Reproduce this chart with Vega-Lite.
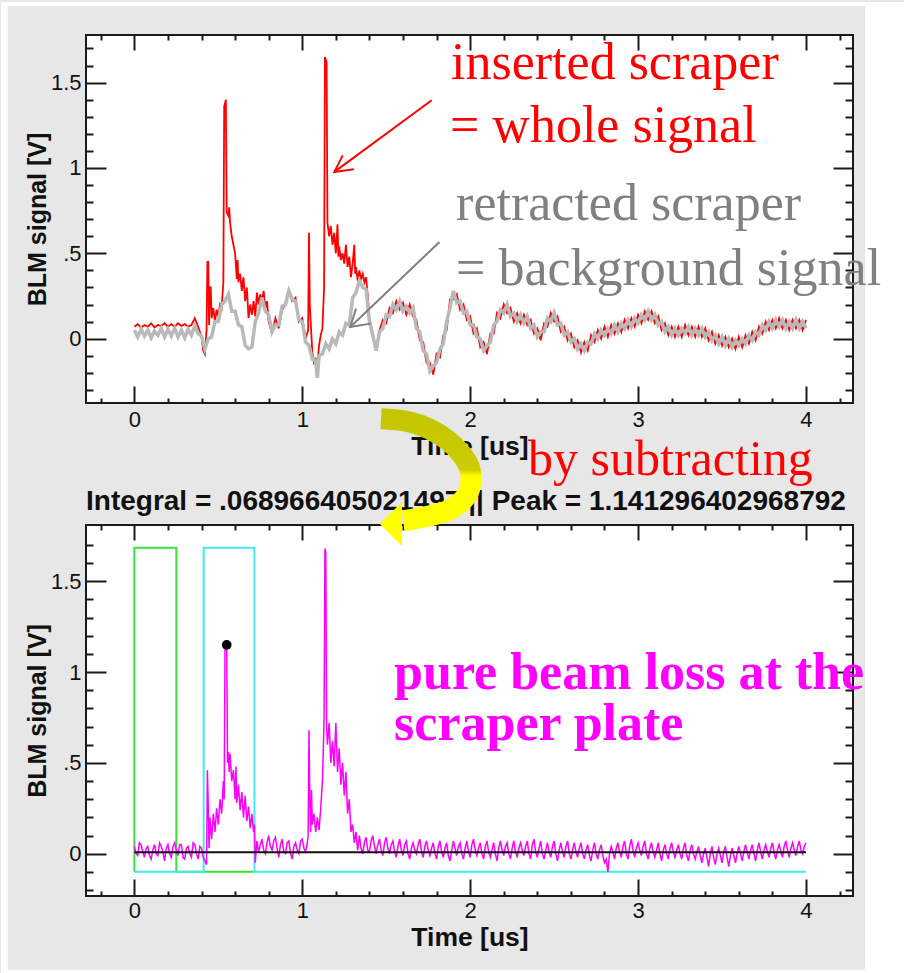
{
"$schema":"https://vega.github.io/schema/vega-lite/v6.json",
"background":"#e7e7e7",
"padding":0,
"bounds":"flush",
"spacing":122,
"config":{"view":{"fill":"#ffffff","stroke":"#1a1a1a","strokeWidth":2},"axis":{"grid":false,"domain":false,"labelFont":"Liberation Sans","titleFont":"Liberation Sans","labelColor":"#111111","titleColor":"#111111","tickColor":"#1a1a1a","tickWidth":2}},
"datasets":{
"gray":[{"t":0,"v":0.05},{"t":0.02,"v":0.01},{"t":0.04,"v":0.055},{"t":0.06,"v":0.015},{"t":0.08,"v":0.05},{"t":0.1,"v":0.005},{"t":0.12,"v":0.045},{"t":0.14,"v":0.02},{"t":0.16,"v":0.06},{"t":0.18,"v":0.01},{"t":0.2,"v":0.055},{"t":0.22,"v":0.015},{"t":0.24,"v":0.06},{"t":0.26,"v":0.01},{"t":0.28,"v":0.05},{"t":0.3,"v":0.005},{"t":0.32,"v":0.055},{"t":0.34,"v":0.02},{"t":0.36,"v":0.075},{"t":0.38,"v":0.03},{"t":0.4,"v":0.015},{"t":0.42,"v":-0.06},{"t":0.44,"v":0},{"t":0.46,"v":0.01},{"t":0.48,"v":0.1},{"t":0.5,"v":0.1},{"t":0.52,"v":0.2},{"t":0.54,"v":0.22},{"t":0.56,"v":0.26},{"t":0.58,"v":0.16},{"t":0.6,"v":0.16},{"t":0.62,"v":0.08},{"t":0.64,"v":0.07},{"t":0.66,"v":-0.04},{"t":0.68,"v":-0.06},{"t":0.7,"v":-0.05},{"t":0.72,"v":0.1},{"t":0.74,"v":0.15},{"t":0.76,"v":0.24},{"t":0.78,"v":0.16},{"t":0.8,"v":0.14},{"t":0.82,"v":0.04},{"t":0.84,"v":0.08},{"t":0.86,"v":0.08},{"t":0.88,"v":0.19},{"t":0.9,"v":0.2},{"t":0.92,"v":0.28},{"t":0.94,"v":0.23},{"t":0.96,"v":0.22},{"t":0.98,"v":0.11},{"t":1,"v":0.1},{"t":1.02,"v":-0.02},{"t":1.04,"v":-0.04},{"t":1.06,"v":-0.12},{"t":1.08,"v":-0.13},{"t":1.09,"v":-0.23},{"t":1.1,"v":-0.1},{"t":1.12,"v":-0.09},{"t":1.14,"v":-0.03},{"t":1.16,"v":-0.06},{"t":1.18,"v":0},{"t":1.2,"v":-0.03},{"t":1.22,"v":0.04},{"t":1.24,"v":0.02},{"t":1.26,"v":0.09},{"t":1.28,"v":0.08},{"t":1.3,"v":0.24},{"t":1.32,"v":0.27},{"t":1.34,"v":0.34},{"t":1.36,"v":0.3},{"t":1.38,"v":0.29},{"t":1.4,"v":0.1},{"t":1.42,"v":0.02},{"t":1.44,"v":-0.07},{"t":1.46,"v":0.04},{"t":1.48,"v":0.06},{"t":1.5,"v":0.14},{"t":1.52,"v":0.13},{"t":1.54,"v":0.2},{"t":1.56,"v":0.17},{"t":1.58,"v":0.22},{"t":1.6,"v":0.16},{"t":1.62,"v":0.19},{"t":1.64,"v":0.15},{"t":1.66,"v":0.18},{"t":1.68,"v":0.06},{"t":1.7,"v":0.04},{"t":1.72,"v":-0.07},{"t":1.74,"v":-0.09},{"t":1.76,"v":-0.19},{"t":1.78,"v":-0.16},{"t":1.8,"v":-0.14},{"t":1.82,"v":-0.06},{"t":1.84,"v":-0.03},{"t":1.86,"v":0.1},{"t":1.88,"v":0.18},{"t":1.9,"v":0.28},{"t":1.92,"v":0.21},{"t":1.94,"v":0.22},{"t":1.96,"v":0.15},{"t":1.98,"v":0.16},{"t":2,"v":0.08},{"t":2.02,"v":0.08},{"t":2.04,"v":0.01},{"t":2.06,"v":0},{"t":2.08,"v":-0.07},{"t":2.1,"v":-0.04},{"t":2.12,"v":-0.02},{"t":2.14,"v":0.08},{"t":2.16,"v":0.1},{"t":2.18,"v":0.17},{"t":2.2,"v":0.15},{"t":2.22,"v":0.2},{"t":2.24,"v":0.13},{"t":2.26,"v":0.15},{"t":2.28,"v":0.1},{"t":2.3,"v":0.14},{"t":2.32,"v":0.09},{"t":2.34,"v":0.13},{"t":2.36,"v":0.06},{"t":2.38,"v":0.08},{"t":2.4,"v":0.01},{"t":2.42,"v":0.04},{"t":2.44,"v":0.04},{"t":2.46,"v":0.12},{"t":2.48,"v":0.1},{"t":2.5,"v":0.15},{"t":2.52,"v":0.08},{"t":2.54,"v":0.09},{"t":2.56,"v":0.02},{"t":2.58,"v":0.04},{"t":2.6,"v":-0.02},{"t":2.62,"v":0},{"t":2.64,"v":-0.06},{"t":2.66,"v":-0.03},{"t":2.68,"v":-0.07},{"t":2.7,"v":-0.02},{"t":2.72,"v":-0.03},{"t":2.74,"v":0.03},{"t":2.76,"v":0},{"t":2.78,"v":0.05},{"t":2.8,"v":0.02},{"t":2.82,"v":0.06},{"t":2.84,"v":0.03},{"t":2.86,"v":0.08},{"t":2.88,"v":0.04},{"t":2.9,"v":0.09},{"t":2.92,"v":0.06},{"t":2.94,"v":0.11},{"t":2.96,"v":0.07},{"t":2.98,"v":0.12},{"t":3,"v":0.09},{"t":3.02,"v":0.14},{"t":3.04,"v":0.11},{"t":3.06,"v":0.16},{"t":3.08,"v":0.11},{"t":3.1,"v":0.14},{"t":3.12,"v":0.08},{"t":3.14,"v":0.1},{"t":3.16,"v":0.04},{"t":3.18,"v":0.07},{"t":3.2,"v":0.02},{"t":3.22,"v":0.06},{"t":3.24,"v":0.02},{"t":3.26,"v":0.06},{"t":3.28,"v":0.03},{"t":3.3,"v":0.07},{"t":3.32,"v":0.02},{"t":3.34,"v":0.06},{"t":3.36,"v":0.02},{"t":3.38,"v":0.06},{"t":3.4,"v":0.01},{"t":3.42,"v":0.04},{"t":3.44,"v":-0.01},{"t":3.46,"v":0.02},{"t":3.48,"v":-0.03},{"t":3.5,"v":0.01},{"t":3.52,"v":-0.04},{"t":3.54,"v":0},{"t":3.56,"v":-0.05},{"t":3.58,"v":-0.01},{"t":3.6,"v":-0.04},{"t":3.62,"v":0},{"t":3.64,"v":-0.03},{"t":3.66,"v":0.02},{"t":3.68,"v":-0.01},{"t":3.7,"v":0.04},{"t":3.72,"v":0.02},{"t":3.74,"v":0.08},{"t":3.76,"v":0.05},{"t":3.78,"v":0.1},{"t":3.8,"v":0.06},{"t":3.82,"v":0.11},{"t":3.84,"v":0.07},{"t":3.86,"v":0.11},{"t":3.88,"v":0.06},{"t":3.9,"v":0.1},{"t":3.92,"v":0.06},{"t":3.94,"v":0.11},{"t":3.96,"v":0.06},{"t":3.98,"v":0.1},{"t":4,"v":0.06}],
"red":[{"t":0,"v":0.07},{"t":0.02,"v":0.085},{"t":0.04,"v":0.065},{"t":0.06,"v":0.08},{"t":0.08,"v":0.07},{"t":0.1,"v":0.09},{"t":0.12,"v":0.065},{"t":0.14,"v":0.08},{"t":0.16,"v":0.075},{"t":0.18,"v":0.09},{"t":0.2,"v":0.07},{"t":0.22,"v":0.085},{"t":0.24,"v":0.07},{"t":0.26,"v":0.09},{"t":0.28,"v":0.075},{"t":0.3,"v":0.085},{"t":0.32,"v":0.07},{"t":0.34,"v":0.08},{"t":0.36,"v":0.12},{"t":0.38,"v":0.07},{"t":0.4,"v":0.01},{"t":0.41,"v":-0.07},{"t":0.42,"v":-0.09},{"t":0.43,"v":0.05},{"t":0.435,"v":0.45},{"t":0.44,"v":0.45},{"t":0.445,"v":0.08},{"t":0.45,"v":0.3},{"t":0.455,"v":0.3},{"t":0.46,"v":0.12},{"t":0.47,"v":0.18},{"t":0.48,"v":0.1},{"t":0.49,"v":0.17},{"t":0.5,"v":0.13},{"t":0.51,"v":0.2},{"t":0.52,"v":0.18},{"t":0.53,"v":0.33},{"t":0.535,"v":1.36},{"t":0.545,"v":1.4},{"t":0.55,"v":0.74},{"t":0.56,"v":0.72},{"t":0.565,"v":0.77},{"t":0.57,"v":0.68},{"t":0.58,"v":0.6},{"t":0.59,"v":0.55},{"t":0.6,"v":0.5},{"t":0.61,"v":0.35},{"t":0.615,"v":0.46},{"t":0.62,"v":0.33},{"t":0.63,"v":0.38},{"t":0.64,"v":0.28},{"t":0.65,"v":0.36},{"t":0.66,"v":0.22},{"t":0.67,"v":0.3},{"t":0.68,"v":0.12},{"t":0.69,"v":0.2},{"t":0.7,"v":0.14},{"t":0.71,"v":0.22},{"t":0.72,"v":0.13},{"t":0.73,"v":0.27},{"t":0.74,"v":0.2},{"t":0.75,"v":0.26},{"t":0.76,"v":0.22},{"t":0.77,"v":0.28},{"t":0.78,"v":0.18},{"t":0.79,"v":0.22},{"t":0.8,"v":0.1},{"t":0.82,"v":0.03},{"t":0.84,"v":0.12},{"t":0.86,"v":0.06},{"t":0.88,"v":0.17},{"t":0.9,"v":0.2},{"t":0.92,"v":0.29},{"t":0.94,"v":0.22},{"t":0.96,"v":0.24},{"t":0.98,"v":0.1},{"t":1,"v":0.12},{"t":1.02,"v":0},{"t":1.035,"v":0.05},{"t":1.04,"v":0.62},{"t":1.045,"v":0.2},{"t":1.05,"v":0.1},{"t":1.06,"v":-0.08},{"t":1.07,"v":-0.14},{"t":1.08,"v":-0.12},{"t":1.09,"v":-0.16},{"t":1.1,"v":-0.04},{"t":1.11,"v":0.02},{"t":1.12,"v":0.06},{"t":1.13,"v":0.3},{"t":1.135,"v":1.65},{"t":1.145,"v":1.62},{"t":1.15,"v":0.68},{"t":1.16,"v":0.6},{"t":1.17,"v":0.66},{"t":1.18,"v":0.55},{"t":1.19,"v":0.62},{"t":1.2,"v":0.5},{"t":1.21,"v":0.67},{"t":1.215,"v":0.48},{"t":1.22,"v":0.54},{"t":1.23,"v":0.46},{"t":1.24,"v":0.5},{"t":1.25,"v":0.44},{"t":1.26,"v":0.55},{"t":1.27,"v":0.42},{"t":1.28,"v":0.48},{"t":1.29,"v":0.36},{"t":1.3,"v":0.44},{"t":1.31,"v":0.55},{"t":1.315,"v":0.38},{"t":1.32,"v":0.42},{"t":1.33,"v":0.34},{"t":1.34,"v":0.4},{"t":1.35,"v":0.35},{"t":1.36,"v":0.38},{"t":1.37,"v":0.33},{"t":1.38,"v":0.36},{"t":1.39,"v":0.25},{"t":1.4,"v":0.12},{"t":1.42,"v":0.03},{"t":1.44,"v":-0.07},{"t":1.46,"v":0.05},{"t":1.48,"v":0.11},{"t":1.5,"v":0.09},{"t":1.52,"v":0.18},{"t":1.54,"v":0.15},{"t":1.56,"v":0.22},{"t":1.58,"v":0.17},{"t":1.6,"v":0.21},{"t":1.62,"v":0.14},{"t":1.64,"v":0.2},{"t":1.66,"v":0.13},{"t":1.68,"v":0.11},{"t":1.7,"v":-0.01},{"t":1.72,"v":-0.02},{"t":1.74,"v":-0.14},{"t":1.76,"v":-0.14},{"t":1.78,"v":-0.21},{"t":1.8,"v":-0.09},{"t":1.82,"v":-0.11},{"t":1.84,"v":0.02},{"t":1.86,"v":0.05},{"t":1.88,"v":0.23},{"t":1.9,"v":0.23},{"t":1.92,"v":0.26},{"t":1.94,"v":0.17},{"t":1.96,"v":0.2},{"t":1.98,"v":0.11},{"t":2,"v":0.13},{"t":2.02,"v":0.03},{"t":2.04,"v":0.06},{"t":2.06,"v":-0.05},{"t":2.08,"v":-0.02},{"t":2.1,"v":-0.09},{"t":2.12,"v":0.03},{"t":2.14,"v":0.03},{"t":2.16,"v":0.15},{"t":2.18,"v":0.12},{"t":2.2,"v":0.2},{"t":2.22,"v":0.15},{"t":2.24,"v":0.18},{"t":2.26,"v":0.1},{"t":2.28,"v":0.15},{"t":2.3,"v":0.09},{"t":2.32,"v":0.14},{"t":2.34,"v":0.08},{"t":2.36,"v":0.11},{"t":2.38,"v":0.03},{"t":2.4,"v":0.06},{"t":2.42,"v":-0.01},{"t":2.44,"v":0.09},{"t":2.46,"v":0.07},{"t":2.48,"v":0.15},{"t":2.5,"v":0.1},{"t":2.52,"v":0.13},{"t":2.54,"v":0.04},{"t":2.56,"v":0.07},{"t":2.58,"v":-0.01},{"t":2.6,"v":0.03},{"t":2.62,"v":-0.05},{"t":2.64,"v":-0.01},{"t":2.66,"v":-0.08},{"t":2.68,"v":-0.02},{"t":2.7,"v":-0.07},{"t":2.72,"v":0.02},{"t":2.74,"v":-0.02},{"t":2.76,"v":0.05},{"t":2.78,"v":0},{"t":2.8,"v":0.07},{"t":2.82,"v":0.01},{"t":2.84,"v":0.08},{"t":2.86,"v":0.03},{"t":2.88,"v":0.09},{"t":2.9,"v":0.04},{"t":2.92,"v":0.11},{"t":2.94,"v":0.06},{"t":2.96,"v":0.12},{"t":2.98,"v":0.07},{"t":3,"v":0.14},{"t":3.02,"v":0.09},{"t":3.04,"v":0.16},{"t":3.06,"v":0.11},{"t":3.08,"v":0.16},{"t":3.1,"v":0.09},{"t":3.12,"v":0.13},{"t":3.14,"v":0.05},{"t":3.16,"v":0.09},{"t":3.18,"v":0.02},{"t":3.2,"v":0.07},{"t":3.22,"v":0.01},{"t":3.24,"v":0.07},{"t":3.26,"v":0.01},{"t":3.28,"v":0.08},{"t":3.3,"v":0.02},{"t":3.32,"v":0.07},{"t":3.34,"v":0.01},{"t":3.36,"v":0.07},{"t":3.38,"v":0.01},{"t":3.4,"v":0.06},{"t":3.42,"v":-0.01},{"t":3.44,"v":0.04},{"t":3.46,"v":-0.03},{"t":3.48,"v":0.02},{"t":3.5,"v":-0.04},{"t":3.52,"v":0.01},{"t":3.54,"v":-0.05},{"t":3.56,"v":0},{"t":3.58,"v":-0.06},{"t":3.6,"v":0.01},{"t":3.62,"v":-0.05},{"t":3.64,"v":0.02},{"t":3.66,"v":-0.03},{"t":3.68,"v":0.04},{"t":3.7,"v":-0.01},{"t":3.72,"v":0.07},{"t":3.74,"v":0.03},{"t":3.76,"v":0.1},{"t":3.78,"v":0.05},{"t":3.8,"v":0.11},{"t":3.82,"v":0.06},{"t":3.84,"v":0.12},{"t":3.86,"v":0.06},{"t":3.88,"v":0.11},{"t":3.9,"v":0.05},{"t":3.92,"v":0.11},{"t":3.94,"v":0.06},{"t":3.96,"v":0.11},{"t":3.98,"v":0.05},{"t":4,"v":0.11}],
"mag":[{"t":0,"v":0.04},{"t":0.01,"v":0},{"t":0.02,"v":-0.01},{"t":0.03,"v":0.06},{"t":0.04,"v":0.05},{"t":0.05,"v":0.01},{"t":0.06,"v":-0.02},{"t":0.07,"v":0.03},{"t":0.08,"v":0.04},{"t":0.09,"v":-0.01},{"t":0.1,"v":-0.03},{"t":0.11,"v":0.02},{"t":0.12,"v":0.05},{"t":0.13,"v":0},{"t":0.14,"v":-0.01},{"t":0.15,"v":0.06},{"t":0.16,"v":0.04},{"t":0.17,"v":0.01},{"t":0.18,"v":-0.04},{"t":0.19,"v":0.03},{"t":0.2,"v":0.05},{"t":0.21,"v":0},{"t":0.22,"v":-0.02},{"t":0.23,"v":0.04},{"t":0.24,"v":0.06},{"t":0.25,"v":0.02},{"t":0.26,"v":-0.01},{"t":0.27,"v":0.05},{"t":0.28,"v":0.05},{"t":0.29,"v":-0.02},{"t":0.3,"v":-0.03},{"t":0.31,"v":0.03},{"t":0.32,"v":0.04},{"t":0.33,"v":0},{"t":0.34,"v":-0.02},{"t":0.35,"v":0.06},{"t":0.36,"v":0.05},{"t":0.37,"v":0},{"t":0.38,"v":-0.03},{"t":0.39,"v":0.04},{"t":0.4,"v":0.03},{"t":0.41,"v":-0.02},{"t":0.42,"v":-0.04},{"t":0.43,"v":-0.06},{"t":0.435,"v":0.46},{"t":0.44,"v":0.27},{"t":0.445,"v":0.03},{"t":0.45,"v":0.2},{"t":0.46,"v":0.08},{"t":0.47,"v":0.22},{"t":0.48,"v":0.12},{"t":0.49,"v":0.25},{"t":0.5,"v":0.16},{"t":0.51,"v":0.3},{"t":0.52,"v":0.22},{"t":0.53,"v":0.4},{"t":0.535,"v":0.3},{"t":0.54,"v":1.14},{"t":0.55,"v":1.14},{"t":0.555,"v":0.5},{"t":0.56,"v":0.56},{"t":0.565,"v":0.45},{"t":0.57,"v":0.55},{"t":0.58,"v":0.4},{"t":0.59,"v":0.46},{"t":0.6,"v":0.3},{"t":0.605,"v":0.48},{"t":0.61,"v":0.28},{"t":0.62,"v":0.38},{"t":0.63,"v":0.24},{"t":0.64,"v":0.34},{"t":0.65,"v":0.2},{"t":0.66,"v":0.32},{"t":0.67,"v":0.18},{"t":0.68,"v":0.26},{"t":0.69,"v":0.14},{"t":0.7,"v":0.22},{"t":0.71,"v":0.12},{"t":0.715,"v":0.16},{"t":0.72,"v":-0.05},{"t":0.73,"v":0.07},{"t":0.74,"v":0.01},{"t":0.75,"v":0.05},{"t":0.76,"v":0.08},{"t":0.77,"v":0.02},{"t":0.78,"v":0},{"t":0.79,"v":0.06},{"t":0.8,"v":0.1},{"t":0.81,"v":0.04},{"t":0.82,"v":0.02},{"t":0.83,"v":0.07},{"t":0.84,"v":0.09},{"t":0.85,"v":0.03},{"t":0.86,"v":-0.02},{"t":0.87,"v":0.05},{"t":0.88,"v":0.08},{"t":0.89,"v":0.01},{"t":0.9,"v":0},{"t":0.91,"v":0.06},{"t":0.92,"v":0.07},{"t":0.93,"v":0},{"t":0.94,"v":-0.03},{"t":0.95,"v":0.04},{"t":0.96,"v":0.06},{"t":0.97,"v":0.02},{"t":0.98,"v":0},{"t":0.99,"v":0.07},{"t":1,"v":0.08},{"t":1.01,"v":0.03},{"t":1.02,"v":0.01},{"t":1.03,"v":0.06},{"t":1.035,"v":0.1},{"t":1.04,"v":0.68},{"t":1.045,"v":0.3},{"t":1.05,"v":0.12},{"t":1.055,"v":0.35},{"t":1.06,"v":0.16},{"t":1.07,"v":0.22},{"t":1.08,"v":0.12},{"t":1.09,"v":0.2},{"t":1.1,"v":0.13},{"t":1.11,"v":0.25},{"t":1.12,"v":0.4},{"t":1.125,"v":0.55},{"t":1.13,"v":0.76},{"t":1.135,"v":1.68},{"t":1.14,"v":1.66},{"t":1.145,"v":0.7},{"t":1.15,"v":0.6},{"t":1.16,"v":0.72},{"t":1.17,"v":0.5},{"t":1.18,"v":0.62},{"t":1.19,"v":0.48},{"t":1.2,"v":0.72},{"t":1.21,"v":0.45},{"t":1.22,"v":0.58},{"t":1.23,"v":0.38},{"t":1.24,"v":0.5},{"t":1.25,"v":0.32},{"t":1.26,"v":0.45},{"t":1.27,"v":0.22},{"t":1.28,"v":0.3},{"t":1.29,"v":0.12},{"t":1.3,"v":0.16},{"t":1.31,"v":0.06},{"t":1.32,"v":0.12},{"t":1.33,"v":0.02},{"t":1.34,"v":0.1},{"t":1.35,"v":0.03},{"t":1.36,"v":0},{"t":1.37,"v":0.06},{"t":1.38,"v":0.09},{"t":1.39,"v":0.02},{"t":1.4,"v":0.01},{"t":1.41,"v":0.07},{"t":1.42,"v":0.1},{"t":1.43,"v":0.04},{"t":1.44,"v":0},{"t":1.45,"v":0.05},{"t":1.46,"v":0.08},{"t":1.47,"v":0.02},{"t":1.48,"v":-0.01},{"t":1.49,"v":0.06},{"t":1.5,"v":0.09},{"t":1.51,"v":0.03},{"t":1.52,"v":0},{"t":1.53,"v":0.05},{"t":1.54,"v":0.07},{"t":1.55,"v":0.01},{"t":1.56,"v":-0.02},{"t":1.57,"v":0.04},{"t":1.58,"v":0.08},{"t":1.59,"v":0.02},{"t":1.6,"v":-0.01},{"t":1.61,"v":0.05},{"t":1.62,"v":0.07},{"t":1.63,"v":0},{"t":1.64,"v":-0.03},{"t":1.65,"v":0.03},{"t":1.66,"v":0.06},{"t":1.67,"v":0.02},{"t":1.68,"v":0},{"t":1.69,"v":0.05},{"t":1.7,"v":0.08},{"t":1.71,"v":0.01},{"t":1.72,"v":-0.02},{"t":1.73,"v":0.04},{"t":1.74,"v":0.07},{"t":1.75,"v":0.02},{"t":1.76,"v":-0.01},{"t":1.77,"v":0.03},{"t":1.78,"v":0.06},{"t":1.79,"v":0},{"t":1.8,"v":-0.03},{"t":1.81,"v":0.04},{"t":1.82,"v":0.07},{"t":1.83,"v":0.01},{"t":1.84,"v":-0.02},{"t":1.85,"v":0.03},{"t":1.86,"v":0.06},{"t":1.87,"v":-0.01},{"t":1.88,"v":-0.04},{"t":1.89,"v":0.02},{"t":1.9,"v":0.07},{"t":1.91,"v":0.03},{"t":1.92,"v":-0.01},{"t":1.93,"v":0.04},{"t":1.94,"v":0.06},{"t":1.95,"v":0},{"t":1.96,"v":-0.03},{"t":1.97,"v":0.03},{"t":1.98,"v":0.07},{"t":1.99,"v":0.01},{"t":2,"v":-0.02},{"t":2.01,"v":0.05},{"t":2.02,"v":0.08},{"t":2.03,"v":0.02},{"t":2.04,"v":-0.01},{"t":2.05,"v":0.03},{"t":2.06,"v":0.06},{"t":2.07,"v":0},{"t":2.08,"v":-0.03},{"t":2.09,"v":0.04},{"t":2.1,"v":0.07},{"t":2.11,"v":0.01},{"t":2.12,"v":-0.02},{"t":2.13,"v":0.02},{"t":2.14,"v":0.06},{"t":2.15,"v":0},{"t":2.16,"v":-0.04},{"t":2.17,"v":0.03},{"t":2.18,"v":0.07},{"t":2.19,"v":0.02},{"t":2.2,"v":-0.01},{"t":2.21,"v":0.04},{"t":2.22,"v":0.06},{"t":2.23,"v":0},{"t":2.24,"v":-0.03},{"t":2.25,"v":0.03},{"t":2.26,"v":0.07},{"t":2.27,"v":0.01},{"t":2.28,"v":-0.02},{"t":2.29,"v":0.03},{"t":2.3,"v":0.06},{"t":2.31,"v":0.02},{"t":2.32,"v":-0.01},{"t":2.33,"v":0.04},{"t":2.34,"v":0.07},{"t":2.35,"v":0},{"t":2.36,"v":-0.03},{"t":2.37,"v":0.05},{"t":2.38,"v":0.08},{"t":2.39,"v":0.01},{"t":2.4,"v":-0.02},{"t":2.41,"v":0.03},{"t":2.42,"v":0.07},{"t":2.43,"v":0},{"t":2.44,"v":-0.03},{"t":2.45,"v":0.02},{"t":2.46,"v":0.06},{"t":2.47,"v":0.01},{"t":2.48,"v":-0.02},{"t":2.49,"v":0.04},{"t":2.5,"v":0.07},{"t":2.51,"v":0},{"t":2.52,"v":-0.04},{"t":2.53,"v":0.02},{"t":2.54,"v":0.06},{"t":2.55,"v":0.01},{"t":2.56,"v":-0.02},{"t":2.57,"v":0.04},{"t":2.58,"v":0.07},{"t":2.59,"v":0},{"t":2.6,"v":-0.03},{"t":2.61,"v":0.02},{"t":2.62,"v":0.06},{"t":2.63,"v":0.01},{"t":2.64,"v":-0.02},{"t":2.65,"v":0.03},{"t":2.66,"v":0.06},{"t":2.67,"v":0},{"t":2.68,"v":-0.03},{"t":2.69,"v":0.02},{"t":2.7,"v":0.05},{"t":2.71,"v":-0.01},{"t":2.72,"v":-0.04},{"t":2.73,"v":0.02},{"t":2.74,"v":0.06},{"t":2.75,"v":0},{"t":2.76,"v":-0.03},{"t":2.77,"v":0.02},{"t":2.78,"v":0.05},{"t":2.79,"v":-0.01},{"t":2.8,"v":-0.05},{"t":2.81,"v":-0.03},{"t":2.82,"v":-0.1},{"t":2.83,"v":0},{"t":2.84,"v":0.04},{"t":2.85,"v":0.01},{"t":2.86,"v":-0.03},{"t":2.87,"v":0.03},{"t":2.88,"v":0.06},{"t":2.89,"v":0.01},{"t":2.9,"v":-0.02},{"t":2.91,"v":0.04},{"t":2.92,"v":0.07},{"t":2.93,"v":0},{"t":2.94,"v":-0.03},{"t":2.95,"v":0.04},{"t":2.96,"v":0.08},{"t":2.97,"v":0.02},{"t":2.98,"v":-0.02},{"t":2.99,"v":0.03},{"t":3,"v":0.06},{"t":3.01,"v":0.02},{"t":3.02,"v":-0.01},{"t":3.03,"v":0.04},{"t":3.04,"v":0.07},{"t":3.05,"v":0},{"t":3.06,"v":-0.03},{"t":3.07,"v":0.03},{"t":3.08,"v":0.06},{"t":3.09,"v":0.01},{"t":3.1,"v":-0.02},{"t":3.11,"v":0.02},{"t":3.12,"v":0.06},{"t":3.13,"v":0},{"t":3.14,"v":-0.04},{"t":3.15,"v":0.02},{"t":3.16,"v":0.05},{"t":3.17,"v":0},{"t":3.18,"v":-0.03},{"t":3.19,"v":0.03},{"t":3.2,"v":0.06},{"t":3.21,"v":0.01},{"t":3.22,"v":-0.02},{"t":3.23,"v":0.02},{"t":3.24,"v":0.05},{"t":3.25,"v":0},{"t":3.26,"v":-0.03},{"t":3.27,"v":0.03},{"t":3.28,"v":0.06},{"t":3.29,"v":-0.01},{"t":3.3,"v":-0.04},{"t":3.31,"v":0.02},{"t":3.32,"v":0.05},{"t":3.33,"v":0},{"t":3.34,"v":-0.03},{"t":3.35,"v":0.01},{"t":3.36,"v":0.04},{"t":3.37,"v":-0.01},{"t":3.38,"v":-0.05},{"t":3.39,"v":0},{"t":3.4,"v":0.03},{"t":3.41,"v":-0.02},{"t":3.42,"v":-0.07},{"t":3.43,"v":0},{"t":3.44,"v":0.04},{"t":3.45,"v":-0.02},{"t":3.46,"v":-0.06},{"t":3.47,"v":0},{"t":3.48,"v":0.03},{"t":3.49,"v":-0.01},{"t":3.5,"v":-0.05},{"t":3.51,"v":0.01},{"t":3.52,"v":0.04},{"t":3.53,"v":-0.02},{"t":3.54,"v":-0.07},{"t":3.55,"v":-0.01},{"t":3.56,"v":0.03},{"t":3.57,"v":-0.01},{"t":3.58,"v":-0.05},{"t":3.59,"v":0},{"t":3.6,"v":0.04},{"t":3.61,"v":0},{"t":3.62,"v":-0.04},{"t":3.63,"v":0.01},{"t":3.64,"v":0.05},{"t":3.65,"v":0.01},{"t":3.66,"v":-0.03},{"t":3.67,"v":0.02},{"t":3.68,"v":0.05},{"t":3.69,"v":0},{"t":3.7,"v":-0.04},{"t":3.71,"v":0.02},{"t":3.72,"v":0.06},{"t":3.73,"v":0.01},{"t":3.74,"v":-0.03},{"t":3.75,"v":0.02},{"t":3.76,"v":0.05},{"t":3.77,"v":0.01},{"t":3.78,"v":-0.02},{"t":3.79,"v":0.03},{"t":3.8,"v":0.06},{"t":3.81,"v":0.01},{"t":3.82,"v":-0.03},{"t":3.83,"v":0.02},{"t":3.84,"v":0.05},{"t":3.85,"v":0.01},{"t":3.86,"v":-0.02},{"t":3.87,"v":0.04},{"t":3.88,"v":0.07},{"t":3.89,"v":0.02},{"t":3.9,"v":-0.02},{"t":3.91,"v":0.03},{"t":3.92,"v":0.06},{"t":3.93,"v":0.02},{"t":3.94,"v":-0.01},{"t":3.95,"v":0.04},{"t":3.96,"v":0.07},{"t":3.97,"v":0.02},{"t":3.98,"v":0},{"t":3.99,"v":0.04},{"t":4,"v":0.06}]
},
"vconcat":[
{
"width":767,"height":368,
"encoding":{
"x":{"field":"t","type":"quantitative","scale":{"domain":[-0.288,4.28],"nice":false,"zero":false},"axis":null},
"y":{"field":"v","type":"quantitative","scale":{"domain":[-0.377,1.779],"nice":false,"zero":false},"axis":null}
},
"layer":[
{"data":{"values":[{"t":-0.7939,"t2":-0.754,"v":1.9725,"v2":-3.7276},{"t":-0.7939,"t2":4.5902,"v":1.9725,"v2":1.949},{"t":4.352,"t2":4.5902,"v":1.9725,"v2":-3.7276},{"t":-0.7939,"t2":4.5902,"v":-3.698,"v2":-3.7276}]},
 "mark":{"type":"rect","color":"#ffffff"},
 "encoding":{"x2":{"field":"t2"},"y2":{"field":"v2"}}},
{"data":{"name":"red"},
 "mark":{"type":"line","color":"#ff0000","strokeWidth":1.8},
 "encoding":{
  "x":{"field":"t","type":"quantitative","scale":{"domain":[-0.288,4.28],"nice":false,"zero":false},
   "axis":{"orient":"bottom","values":[0,1,2,3,4],"ticks":false,"labelExpr":"toString(datum.value)","labelFontSize":22,"labelPadding":23,"labelBaseline":"alphabetic","labelFlush":false,"labelOverlap":false,"title":"Time [us]","titleFontSize":26.5,"titleFontWeight":"bold","titleBaseline":"alphabetic","titleY":51}},
  "y":{"field":"v","type":"quantitative","scale":{"domain":[-0.377,1.779],"nice":false,"zero":false},
   "axis":{"orient":"left","values":[0,0.5,1,1.5],"ticks":false,"labelExpr":"datum.value === 0.5 ? '.5' : toString(datum.value)","labelFontSize":22,"labelPadding":5,"labelFlush":false,"labelOverlap":false,"title":"BLM signal [V]","titleFontSize":25,"titleFontWeight":"bold","titleBaseline":"alphabetic","titleX":-41}}
 }},
{"data":{"name":"gray"},
 "mark":{"type":"line","color":"#b9b9b9","strokeWidth":3.5},
 "encoding":{
  "x":{"field":"t","type":"quantitative","scale":{"domain":[-0.288,4.28],"nice":false,"zero":false},
   "axis":{"orient":"bottom","values":[-0.2,0,0.2,0.4,0.6,0.8,1,1.2,1.4,1.6,1.8,2,2.2,2.4,2.6,2.8,3,3.2,3.4,3.6,3.8,4,4.2],"labels":false,"title":null,"tickSize":{"condition":{"test":"datum.value % 1 === 0","value":-17},"value":-5}}},
  "y":{"field":"v","type":"quantitative","scale":{"domain":[-0.377,1.779],"nice":false,"zero":false},
   "axis":{"orient":"left","values":[-0.3,-0.2,-0.1,0,0.1,0.2,0.3,0.4,0.5,0.6,0.7,0.8,0.9,1,1.1,1.2,1.3,1.4,1.5,1.6,1.7],"labels":false,"title":null,"tickSize":{"condition":{"test":"(datum.value * 2) % 1 === 0","value":-20},"value":-7}}}
 }},
{"data":{"values":[{"t":1.886,"v":1.521,"label":"inserted scraper"},{"t":1.88,"v":1.152,"label":"= whole signal"}]},
 "mark":{"type":"text","align":"left","baseline":"alphabetic","font":"Liberation Serif","fontSize":52,"color":"#ff0000"},
 "encoding":{"text":{"field":"label"}}},
{"data":{"values":[{"t":2.345,"v":-0.8,"label":"by subtracting"}]},
 "mark":{"type":"text","align":"left","baseline":"alphabetic","font":"Liberation Serif","fontSize":50,"color":"#ff0000"},
 "encoding":{"text":{"field":"label"}}},
{"data":{"values":[{"t":1.916,"v":0.694,"label":"retracted scraper"},{"t":1.916,"v":0.313,"label":"= background signal"}]},
 "mark":{"type":"text","align":"left","baseline":"alphabetic","font":"Liberation Serif","fontSize":52,"color":"#808080"},
 "encoding":{"text":{"field":"label"}}},
{"data":{"values":[{"seg":"a","i":0,"t":1.771,"v":1.397},{"seg":"a","i":1,"t":1.191,"v":0.977},{"seg":"b","i":0,"t":1.241,"v":1.074},{"seg":"b","i":1,"t":1.191,"v":0.977},{"seg":"b","i":2,"t":1.307,"v":0.992}]},
 "mark":{"type":"line","color":"#ff0000","strokeWidth":2},
 "encoding":{
  "x":{"field":"t","type":"quantitative","scale":{"domain":[-0.288,4.28],"nice":false,"zero":false},
   "axis":{"orient":"top","values":[-0.2,0,0.2,0.4,0.6,0.8,1,1.2,1.4,1.6,1.8,2,2.2,2.4,2.6,2.8,3,3.2,3.4,3.6,3.8,4,4.2],"labels":false,"title":null,"tickSize":{"condition":{"test":"datum.value % 1 === 0","value":-15},"value":-5}}},
  "y":{"field":"v","type":"quantitative","scale":{"domain":[-0.377,1.779],"nice":false,"zero":false},
   "axis":{"orient":"right","values":[-0.3,-0.2,-0.1,0,0.1,0.2,0.3,0.4,0.5,0.6,0.7,0.8,0.9,1,1.1,1.2,1.3,1.4,1.5,1.6,1.7],"labels":false,"title":null,"tickSize":{"condition":{"test":"(datum.value * 2) % 1 === 0","value":-20},"value":-8}}},
  "detail":{"field":"seg"},"order":{"field":"i"}
 }},
{"data":{"values":[{"seg":"a","i":0,"t":1.817,"v":0.566},{"seg":"a","i":1,"t":1.286,"v":0.0685},{"seg":"b","i":0,"t":1.32,"v":0.176},{"seg":"b","i":1,"t":1.286,"v":0.0685},{"seg":"b","i":2,"t":1.406,"v":0.088}]},
 "mark":{"type":"line","color":"#7f7f7f","strokeWidth":2},
 "encoding":{"detail":{"field":"seg"},"order":{"field":"i"}}}
],
"resolve":{"axis":{"x":"independent","y":"independent"}}
},
{
"width":767,"height":371,
"encoding":{
"x":{"field":"t","type":"quantitative","scale":{"domain":[-0.288,4.28],"nice":false,"zero":false},"axis":null},
"y":{"field":"v","type":"quantitative","scale":{"domain":[-0.233,1.81],"nice":false,"zero":false},"axis":null}
},
"layer":[
{"data":{"values":[{"i":0,"t":0,"v":-0.1},{"i":1,"t":0,"v":1.685},{"i":2,"t":0.25,"v":1.685},{"i":3,"t":0.25,"v":-0.1},{"i":4,"t":0.715,"v":-0.1}]},
 "mark":{"type":"line","color":"#3ce23c","strokeWidth":2},
 "encoding":{
  "x":{"field":"t","type":"quantitative","scale":{"domain":[-0.288,4.28],"nice":false,"zero":false},
   "axis":{"orient":"bottom","values":[-0.2,0,0.2,0.4,0.6,0.8,1,1.2,1.4,1.6,1.8,2,2.2,2.4,2.6,2.8,3,3.2,3.4,3.6,3.8,4,4.2],"labels":false,"title":null,"tickSize":{"condition":{"test":"datum.value % 1 === 0","value":-17},"value":-5}}},
  "y":{"field":"v","type":"quantitative","scale":{"domain":[-0.233,1.81],"nice":false,"zero":false},
   "axis":{"orient":"left","values":[-0.2,-0.1,0,0.1,0.2,0.3,0.4,0.5,0.6,0.7,0.8,0.9,1,1.1,1.2,1.3,1.4,1.5,1.6,1.7],"labels":false,"title":null,"tickSize":{"condition":{"test":"(datum.value * 2) % 1 === 0","value":-20},"value":-7}}},
  "order":{"field":"i"}
 }},
{"data":{"values":[{"i":0,"t":0,"v":-0.1},{"i":1,"t":0.413,"v":-0.1},{"i":2,"t":0.413,"v":1.685},{"i":3,"t":0.715,"v":1.685},{"i":4,"t":0.715,"v":-0.1},{"i":5,"t":4,"v":-0.1}]},
 "mark":{"type":"line","color":"#40ecec","strokeWidth":2},
 "encoding":{
  "x":{"field":"t","type":"quantitative","scale":{"domain":[-0.288,4.28],"nice":false,"zero":false},
   "axis":{"orient":"top","values":[-0.2,0,0.2,0.4,0.6,0.8,1,1.2,1.4,1.6,1.8,2,2.2,2.4,2.6,2.8,3,3.2,3.4,3.6,3.8,4,4.2],"labels":false,"title":null,"tickSize":{"condition":{"test":"datum.value % 1 === 0","value":-15},"value":-5}}},
  "y":{"field":"v","type":"quantitative","scale":{"domain":[-0.233,1.81],"nice":false,"zero":false},
   "axis":{"orient":"right","values":[-0.2,-0.1,0,0.1,0.2,0.3,0.4,0.5,0.6,0.7,0.8,0.9,1,1.1,1.2,1.3,1.4,1.5,1.6,1.7],"labels":false,"title":null,"tickSize":{"condition":{"test":"(datum.value * 2) % 1 === 0","value":-20},"value":-8}}},
  "order":{"field":"i"}
 }},
{"data":{"name":"mag"},
 "mark":{"type":"line","color":"#ff00ff","strokeWidth":1.5},
 "encoding":{
  "x":{"field":"t","type":"quantitative","scale":{"domain":[-0.288,4.28],"nice":false,"zero":false},
   "axis":{"orient":"bottom","values":[0,1,2,3,4],"ticks":false,"labelExpr":"toString(datum.value)","labelFontSize":22,"labelPadding":21,"labelBaseline":"alphabetic","labelFlush":false,"labelOverlap":false,"title":"Time [us]","titleFontSize":26.5,"titleFontWeight":"bold","titleBaseline":"alphabetic","titleY":49.5}},
  "y":{"field":"v","type":"quantitative","scale":{"domain":[-0.233,1.81],"nice":false,"zero":false},
   "axis":{"orient":"left","values":[0,0.5,1,1.5],"ticks":false,"labelExpr":"datum.value === 0.5 ? '.5' : toString(datum.value)","labelFontSize":22,"labelPadding":5,"labelFlush":false,"labelOverlap":false,"title":"BLM signal [V]","titleFontSize":25,"titleFontWeight":"bold","titleBaseline":"alphabetic","titleX":-41}}
 }},
{"data":{"values":[{"t":0,"v":0.008},{"t":4,"v":0.008}]},
 "mark":{"type":"line","color":"#111111","strokeWidth":2},
 "encoding":{}},
{"data":{"values":[{"t":0.55,"v":1.15}]},
 "mark":{"type":"point","shape":"circle","filled":true,"color":"#000000","opacity":1,"size":95},
 "encoding":{}},
{"data":{"values":[{"t":-0.288,"v":1.891,"label":"Integral = .068966405021497 || Peak = 1.141296402968792"}]},
 "mark":{"type":"text","align":"left","baseline":"alphabetic","font":"Liberation Sans","fontSize":28,"fontWeight":"bold","color":"#111111"},
 "encoding":{"text":{"field":"label"}}},
{"data":{"values":[{"t":1.547,"v":0.909,"label":"pure beam loss at the"},{"t":1.547,"v":0.624,"label":"scraper plate"}]},
 "mark":{"type":"text","align":"left","baseline":"alphabetic","font":"Liberation Serif","fontSize":52,"fontWeight":"bold","color":"#ff00ff"},
 "encoding":{"text":{"field":"label"}}},
{"data":{"values":[{"i":0,"t":1.469,"v":2.395},{"i":1,"t":1.628,"v":2.38},{"i":2,"t":1.755,"v":2.34},{"i":3,"t":1.867,"v":2.276},{"i":4,"t":1.946,"v":2.203},{"i":5,"t":1.995,"v":2.129},{"i":6,"t":2.005,"v":2.058},{"i":7,"t":1.99,"v":1.992},{"i":8,"t":1.946,"v":1.937},{"i":9,"t":1.867,"v":1.89},{"i":10,"t":1.757,"v":1.86},{"i":11,"t":1.648,"v":1.84},{"i":12,"t":1.601,"v":1.834}]},
 "mark":{"type":"line","strokeWidth":21,"strokeCap":"butt","interpolate":"catmull-rom",
  "color":{"gradient":"linear","x1":0,"y1":0,"x2":0,"y2":1,"stops":[{"offset":0,"color":"#c6c600"},{"offset":0.5,"color":"#cccc00"},{"offset":0.56,"color":"#ffff00"},{"offset":1,"color":"#ffff00"}]}},
 "encoding":{"order":{"field":"i"}}},
{"data":{"values":[{"t":1.528,"v":1.816}]},
 "mark":{"type":"point","shape":"M -0.5 0 L 0.5 -1 L 0.5 1 Z","filled":true,"color":"#ffff00","opacity":1,"size":1936},
 "encoding":{}}
],
"resolve":{"axis":{"x":"independent","y":"independent"}}
}
]
}
